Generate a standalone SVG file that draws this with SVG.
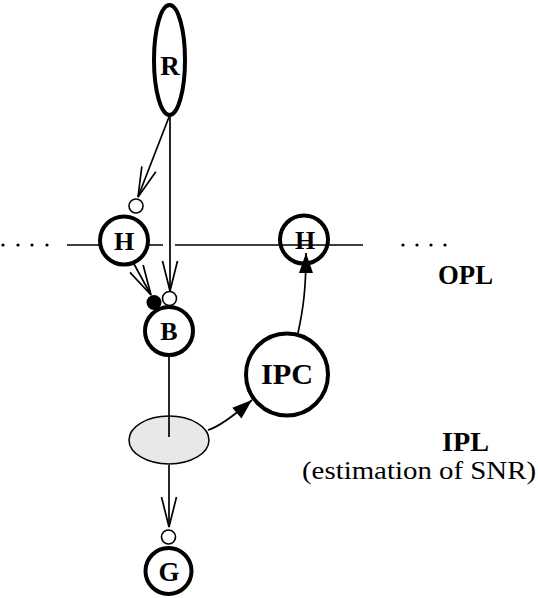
<svg xmlns="http://www.w3.org/2000/svg" width="538" height="598" viewBox="0 0 538 598">
<style>
.n{fill:#fff;stroke:#000;stroke-width:4}
.s{fill:#fff;stroke:#000;stroke-width:1.6}
.l{fill:none;stroke:#000;stroke-width:1.7}
.t{font-family:"Liberation Serif","Times New Roman",serif;font-weight:bold;text-anchor:middle;fill:#000}
.r{font-family:"Liberation Serif","Times New Roman",serif;text-anchor:middle;fill:#000}
.dot{fill:#000}
</style>
<defs>
<marker id="open" markerUnits="userSpaceOnUse" markerWidth="40" markerHeight="20" viewBox="-32 -10 34 20" refX="0" refY="0" orient="auto">
<path d="M-30,-7.5 L0,0 L-30,7.5" fill="none" stroke="#000" stroke-width="1.7"/>
</marker>
<marker id="fill" markerUnits="userSpaceOnUse" markerWidth="30" markerHeight="20" viewBox="-22 -10 24 20" refX="0" refY="0" orient="auto">
<path d="M-20,-7 L0,0 L-20,7 Z" fill="#000"/>
</marker>
</defs>
<g id="layers">
<g class="dot">
<circle cx="3" cy="245" r="1.6"/><circle cx="18" cy="245" r="1.6"/><circle cx="32" cy="245" r="1.6"/><circle cx="47" cy="245" r="1.6"/>
<circle cx="403" cy="245" r="1.6"/><circle cx="417" cy="245" r="1.6"/><circle cx="431" cy="245" r="1.6"/><circle cx="445" cy="245" r="1.6"/>
</g>
<path class="l" d="M67,245 H163 M175,245 H363"/>
<text class="t" x="465.5" y="284" font-size="27" textLength="55" lengthAdjust="spacingAndGlyphs">OPL</text>
<text class="t" x="465.5" y="451" font-size="27" textLength="47" lengthAdjust="spacingAndGlyphs">IPL</text>
<text class="r" x="419" y="479" font-size="26" textLength="234" lengthAdjust="spacingAndGlyphs">(estimation of SNR)</text>
</g>
<g id="connectors">
<path class="l" d="M170,117 V291" marker-end="url(#open)"/>
<path class="l" d="M169,117 L138,197" marker-end="url(#open)"/>
<path class="l" d="M134,264 L151,295" marker-end="url(#open)"/>
<path class="l" d="M169,357 V437"/>
<path class="l" d="M169,465 V527" marker-end="url(#open)"/>
<path class="l" d="M208,430 Q222,426 252,400" marker-end="url(#fill)"/>
<path class="l" d="M298,333 C303,310 306,290 306,253" marker-end="url(#fill)"/>
</g>
<g id="R">
<ellipse class="n" cx="169.5" cy="60" rx="15.5" ry="55" stroke-width="3.5"/>
<text class="t" x="170" y="75" font-size="27">R</text>
</g>
<g id="H1">
<circle class="s" cx="136" cy="206" r="7"/>
<circle class="n" cx="124" cy="240.5" r="24"/>
<text class="t" x="124" y="250" font-size="26">H</text>
</g>
<g id="B">
<circle cx="154" cy="302.5" r="7.5" fill="#000"/>
<circle class="s" cx="169.5" cy="298.5" r="7"/>
<circle class="n" cx="169" cy="331" r="24"/>
<text class="t" x="169" y="340" font-size="26">B</text>
</g>
<g id="H2">
<circle class="n" cx="304" cy="239.5" r="24" style="fill:none"/>
<text class="t" x="305" y="249" font-size="26">H</text>
</g>
<g id="IPC">
<circle class="n" cx="287" cy="374.5" r="41" stroke-width="2.5"/>
<text class="t" x="287" y="384" font-size="30" textLength="52" lengthAdjust="spacingAndGlyphs">IPC</text>
</g>
<g id="IPL">
<ellipse cx="169" cy="440" rx="40" ry="24" fill="#e8e8e8" stroke="#000" stroke-width="1.5"/>
<path class="l" d="M169,416 V437"/>
</g>
<g id="G">
<circle class="s" cx="168.5" cy="537" r="7"/>
<circle class="n" cx="168.5" cy="571" r="23"/>
<text class="t" x="169" y="581" font-size="27">G</text>
</g>
</svg>
